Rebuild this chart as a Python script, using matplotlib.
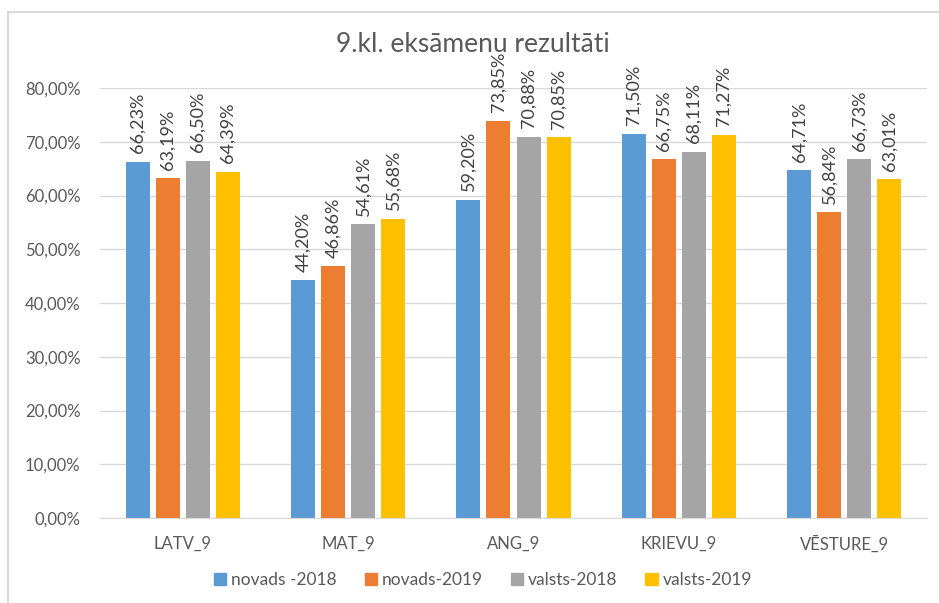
import numpy as np
import matplotlib
matplotlib.use("Agg")
from matplotlib import pyplot as plt
from matplotlib.patches import Rectangle, Patch

plt.rcParams['font.family'] = ['Lato', 'DejaVu Sans']

categories = ["LATV_9", "MAT_9", "ANG_9", "KRIEVU_9", "VĒSTURE_9"]
series_names = ["novads -2018", "novads-2019", "valsts-2018", "valsts-2019"]
novads_2018 = [66.23, 44.20, 59.20, 71.50, 64.71]
novads_2019 = [63.19, 46.86, 73.85, 66.75, 56.84]
valsts_2018 = [66.50, 54.61, 70.88, 68.11, 66.73]
valsts_2019 = [64.39, 55.68, 70.85, 71.27, 63.01]
colors = ["#5B9BD5", "#ED7D31", "#A5A5A5", "#FFC000"]

W, H = 939, 603
fig = plt.figure(figsize=(W / 100, H / 100), dpi=100)
# chart border (light gray frame, cropped at right/bottom)
fig.patches.append(Rectangle((8 / W, -0.1), 1.2, 1 - 12 / H + 0.1, transform=fig.transFigure,
                             fill=False, edgecolor="#d9d9d9", linewidth=1.5))

ax = fig.add_axes([100 / W, 1 - 518 / H, 827 / W, 430 / H])
x = np.arange(len(categories))
pitch = 30 / 165
bw = 24 / 165
for i, (vals, c) in enumerate(zip([novads_2018, novads_2019, valsts_2018, valsts_2019], colors)):
    pos = x + (i - 1.5) * pitch
    ax.bar(pos, vals, bw, color=c, zorder=2)
    for p, v in zip(pos, vals):
        ax.text(p, v + 1.6, f"{v:.2f}%".replace(".", ","), rotation=90, ha="center", va="bottom",
                fontsize=13, color="#404040", zorder=3)

ax.set_xlim(-0.5, len(categories) - 0.5)
ax.set_ylim(0, 80)
ax.set_yticks(np.arange(0, 81, 10))
ax.set_yticklabels([f"{v:.2f}%".replace(".", ",") for v in np.arange(0, 81, 10)])
ax.set_xticks(x)
ax.set_xticklabels(categories)
ax.tick_params(axis="both", length=0, labelsize=12, labelcolor="#595959")
ax.tick_params(axis="x", pad=13)
ax.tick_params(axis="y", pad=14)
ax.grid(axis="y", color="#d9d9d9", linewidth=1, zorder=0)
for s in ["top", "right", "left"]:
    ax.spines[s].set_visible(False)
ax.spines["bottom"].set_color("#d9d9d9")

fig.text(473 / W, 1 - 45 / H, "9.kl. eksāmenu rezultāti", ha="center", va="center",
         fontsize=19, color="#595959")

handles = [Patch(color=c) for c in colors]
fig.legend(handles, series_names, loc="center", bbox_to_anchor=(483 / W, 1 - 580 / H), ncol=4,
           frameon=False, fontsize=12.5, handlelength=0.7, handleheight=0.7, handletextpad=0.3,
           columnspacing=1.6, labelcolor="#595959")

fig.savefig("out.png", dpi=100)
